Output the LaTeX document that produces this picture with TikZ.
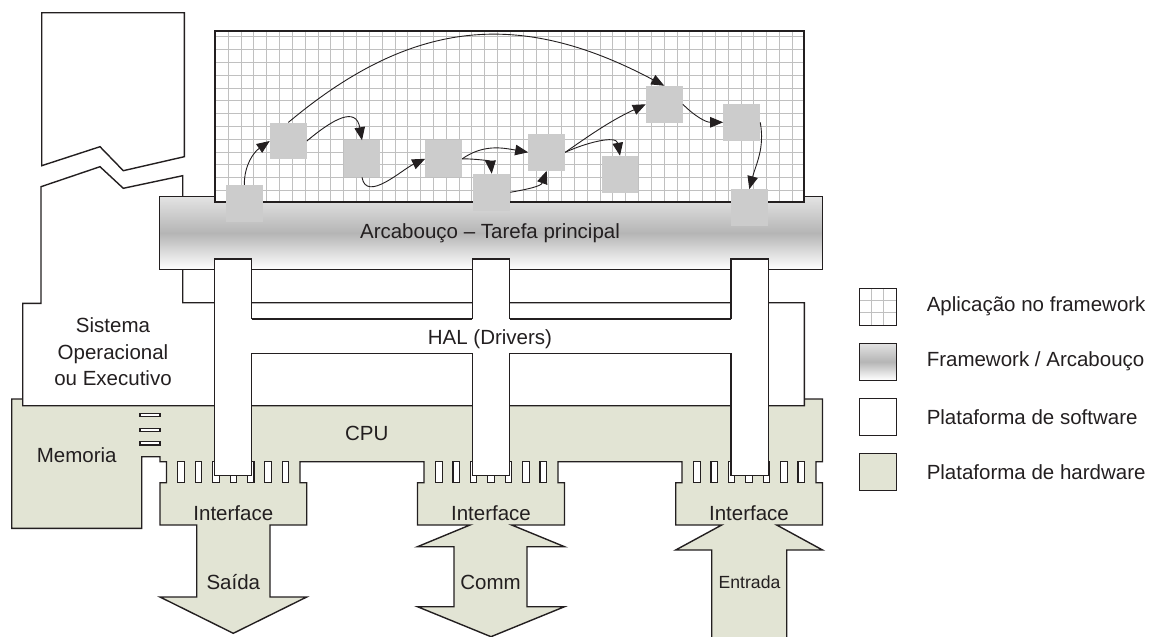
\documentclass[tikz,border=0pt]{standalone}
\usepackage{fontspec}
\setmainfont{Liberation Sans}
\usetikzlibrary{arrows.meta,positioning}
\definecolor{ink}{RGB}{35,31,32}
\definecolor{hwgreen}{RGB}{226,228,212}
\definecolor{taskgray}{RGB}{204,204,204}
\definecolor{gridgray}{RGB}{192,192,192}
\tikzset{
  outline/.style={draw=ink, line width=1.4pt},
  lbl/.style={font=\fontsize{20.5}{26.5}\selectfont, text=ink, inner sep=0pt},
  task/.style={fill=taskgray, minimum size=36.7pt, inner sep=0pt},
  flow/.style={draw=ink, line width=0.9pt, -{Triangle[length=13pt,width=10.5pt]}},
  barshade/.style={top color=gray!22, bottom color=white, middle color=gray!58},
  gridline/.style={draw=gridgray, line width=0.9pt},
  swatch/.style={outline, line width=1pt, minimum size=36.7pt, inner sep=0pt},
}
\begin{document}
\begin{tikzpicture}[x=1pt,y=-1pt]
\useasboundingbox (0,0) rectangle (1154,637);
\clip (0,0) rectangle (1154,637);

% hardware platform
\filldraw[outline, fill=hwgreen] (11.7,399) -- (822.5,399) -- (822.5,461.7) -- (816,461.7) -- (816,482.7) -- (822.5,482.7) -- (822.5,525)
 -- (776.7,525) -- (822.5,550) -- (786.7,550) -- (786.7,645) -- (711.7,645) -- (711.7,550) -- (675.7,550) -- (721.7,525) -- (675.7,525)
 -- (675.7,482.7) -- (682,482.7) -- (682,461.7) -- (675.7,461.7) -- (564.5,461.7) -- (558,461.7) -- (558,482.7) -- (564.5,482.7) -- (564.5,525)
 -- (511.7,525) -- (564.5,546.7) -- (527,546.7) -- (527,606.7) -- (564.5,606.7) -- (491,636.7) -- (417.5,606.7) -- (454,606.7) -- (454,546.7)
 -- (417.5,546.7) -- (470,525) -- (417.5,525) -- (417.5,482.7) -- (424,482.7) -- (424,461.7) -- (417.5,461.7) -- (306.7,461.7) -- (300,461.7)
 -- (300,482.7) -- (306.7,482.7) -- (306.7,525) -- (270,525) -- (270,597) -- (306.7,597) -- (233.3,633.3) -- (160,597) -- (196.7,597)
 -- (196.7,525) -- (160,525) -- (160,482.7) -- (166.5,482.7) -- (166.5,461.7) -- (160,461.7) -- (160,456.7) -- (141.7,456.7) -- (141.7,528.3)
 -- (11.7,528.3) -- cycle;
\foreach \y in {415,430,443.3}
  \filldraw[outline, fill=white, line width=1.1pt] (140,\y-1.7) rectangle (160,\y+1.7);
\foreach \c in {233.3,491,749}
  \foreach \k in {0,...,6}
    \filldraw[outline, fill=white, line width=1.1pt] (\c-55.45+17.4*\k,461.7) rectangle (\c-48.95+17.4*\k,482.7);

% software platform
\filldraw[outline, fill=white] (41,186.7) -- (100,166.7) -- (123.3,188.3) -- (182.7,175.7) -- (182.7,302.7) -- (804.3,302.7)
 -- (804.3,405.7) -- (22.7,405.7) -- (22.7,303.3) -- (41,303.3) -- cycle;
\draw[outline] (251.7,319) -- (730.8,319) (251.7,353.3) -- (730.8,353.3);
\filldraw[outline, fill=white] (41.7,12.7) -- (184.3,12.7) -- (184.3,156.7) -- (123.3,170.7) -- (100,146.7) -- (41.7,165.7) -- cycle;

% framework
\shade[barshade] (159.3,196.7) rectangle (822.7,269.3);
\draw[outline] (159.3,196.7) rectangle (822.7,269.3);

% application grid
\begin{scope}
\clip (214.7,30.7) rectangle (804,202.3);
\fill[white] (214.7,30.7) rectangle (804,202.3);
\foreach \k in {0,...,45} \draw[gridline] (228.3+12.82*\k,30) -- (228.3+12.82*\k,203);
\foreach \k in {0,...,13} \draw[gridline] (214,36.7+12.82*\k) -- (805,36.7+12.82*\k);
\end{scope}
\draw[outline, line width=1.8pt] (214.7,30.7) rectangle (804,202.3);

\node[task] (t1) at (244.3,203.3) {};
\node[task] (t2) at (288.3,141) {};
\node[task] (t3) at (362,158.8) {};
\node[task] (t4) at (443.7,158.8) {};
\node[task] (t5) at (491.7,192.3) {};
\node[task] (t6) at (546.7,152.3) {};
\node[task] (t7) at (620,174.3) {};
\node[task] (t8) at (664.3,104.3) {};
\node[task] (t9) at (741.7,122.3) {};
\node[task] (t10) at (749.3,207.7) {};

\draw[flow] (t1.north) to[out=90,in=215] (t2.west);
\draw[flow] (t2.east) to[out=40,in=100,looseness=1.6] (t3.north);
\draw[flow] (t3.south) to[out=-80,in=205] (t4.west);
\draw[flow] (t4.east) to[out=35,in=170] (t6.west);
\draw[flow] (t4.east) to[out=0,in=95] (t5.north);
\draw[flow] (t5.east) to[out=10,in=-110] (t6.south);
\draw[flow] (t2.north) to[out=40,in=152,looseness=1.1] (t8.north);
\draw[flow] (t6.east) to[out=35,in=205] (t8.west);
\draw[flow] (t6.east) to[out=25,in=100] (t7.north);
\draw[flow] (t8.east) to[out=-45,in=180] (t9.west);
\draw[flow] (t9.east) to[out=-80,in=75] (t10.north);

% drivers
\foreach \c in {233,491,749.5}
  \fill[white] (\c-18.7,259) rectangle (\c+18.7,475.3);
\draw[outline] (251.7,319) -- (251.7,259) -- (214.3,259) -- (214.3,475.3) -- (251.7,475.3) -- (251.7,353.3);
\draw[outline] (472.3,319) -- (472.3,259) -- (509.7,259) -- (509.7,319) (472.3,353.3) -- (472.3,475.3) -- (509.7,475.3) -- (509.7,353.3);
\draw[outline] (730.8,319) -- (730.8,259) -- (768.2,259) -- (768.2,475.3) -- (730.8,475.3) -- (730.8,353.3);

\node[lbl] (arcab) at (490,233.3) {Arcabouço – Tarefa principal};
\node[lbl] (hal) at (490,339) {HAL (Drivers)};
\node[lbl, align=center] (sisop) at (113,352) {Sistema\\Operacional\\ou Executivo};
\node[lbl] (mem) at (76.7,455) {Memoria};
\node[lbl] (cpu) at (366.7,433.3) {CPU};
\node[lbl] (if1) at (233.3,513) {Interface};
\node[lbl] (if2) at (491,513) {Interface};
\node[lbl] (if3) at (749,513) {Interface};
\node[lbl] (saida) at (233.3,582) {Saída};
\node[lbl] (comm) at (490.5,582) {Comm};
\node[lbl, font=\fontsize{17.6}{20}\selectfont] (entrada) at (749.5,582) {Entrada};

% legend
\draw[gridline, line width=0.8pt] (871.5,288.3) -- (871.5,325) (883.8,288.3) -- (883.8,325) (859.3,300.5) -- (896,300.5) (859.3,312.8) -- (896,312.8);
\node[swatch] (lg1) at (877.7,306.7) {};
\node[swatch, barshade] (lg2) at (877.7,361.7) {};
\node[swatch, fill=white] (lg3) at (877.7,417.3) {};
\node[swatch, fill=hwgreen] (lg4) at (877.7,472.3) {};
\node[lbl, right=30pt of lg1] (lt1) {Aplicação no framework};
\node[lbl, right=30pt of lg2] (lt2) {Framework / Arcabouço};
\node[lbl, right=30pt of lg3] (lt3) {Plataforma de software};
\node[lbl, right=30pt of lg4] (lt4) {Plataforma de hardware};

\end{tikzpicture}
\end{document}
